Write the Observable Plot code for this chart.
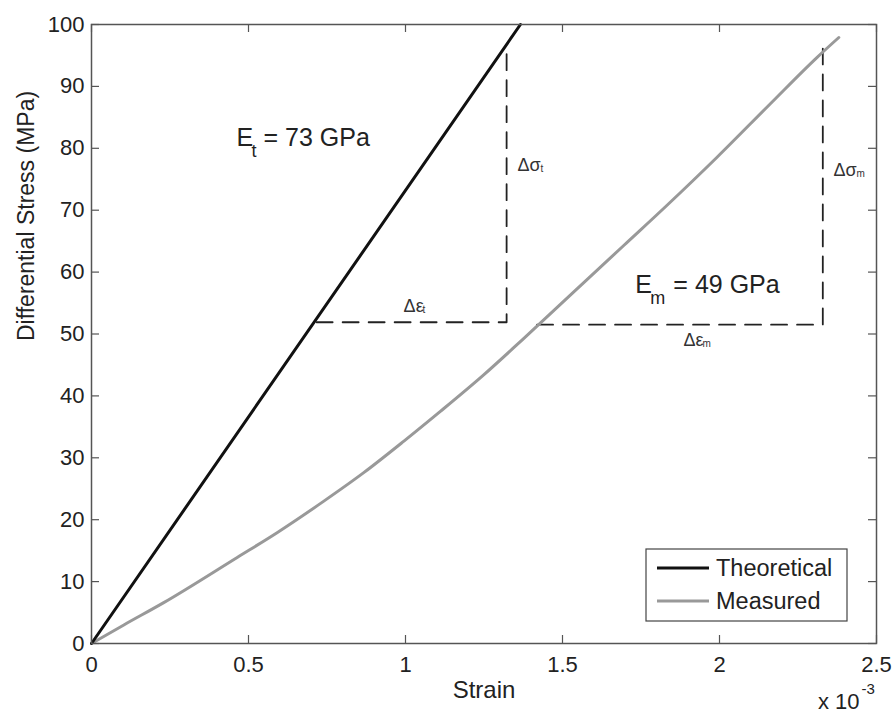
<!DOCTYPE html>
<html><head><meta charset="utf-8">
<script src="https://cdn.jsdelivr.net/npm/d3@7"></script>
<script src="https://cdn.jsdelivr.net/npm/@observablehq/plot@0.6"></script>
<style>
body{margin:0;background:#fff;}
svg{font-family:"Liberation Sans",Arial,Helvetica,sans-serif;}
</style>
</head><body><div id="chart"></div>
<script>
// Strain values are in units of 10^-3
const theoStrain = [0, 1.366];
const theoStress = [0, 100];
const measStrain = [0, 0.103, 0.230, 0.464, 0.591, 0.740, 0.867, 0.995, 1.111, 1.249, 1.377, 1.536, 1.695, 1.833, 1.993, 2.162, 2.311, 2.380];
const measStress = [0, 3.0, 6.6, 13.9, 17.9, 23.0, 27.6, 32.7, 37.5, 43.4, 49.3, 56.8, 64.3, 70.8, 78.6, 87.2, 94.7, 97.9];
const dashTStrain = [0.717, 1.322, 1.322];
const dashTStress = [51.9, 51.9, 96.8];
const dashMStrain = [1.419, 2.329, 2.329];
const dashMStress = [51.5, 51.5, 96.1];
const xTicks = [0, 0.5, 1, 1.5, 2, 2.5];
const yTicks = [0, 10, 20, 30, 40, 50, 60, 70, 80, 90, 100];
const seriesNames = ["Theoretical", "Measured"];
const modulusLabels = [{main: "E", sub: "t", rest: "= 73 GPa", x: 0.462, y: 80.45}, {main: "E", sub: "m", rest: "= 49 GPa", x: 1.732, y: 56.7}];
const sigmaLabels = [
  {main: "Δσ", sub: "t", x: 1.357, y: 76.4},
  {main: "Δσ", sub: "m", x: 2.363, y: 75.6}
];
const epsLabels = [
  {main: "Δε", sub: "t", x: 0.994, y: 53.5},
  {main: "Δε", sub: "m", x: 1.885, y: 48.1}
];

const theo = theoStrain.map((x, i) => ({x, y: theoStress[i]}));
const meas = measStrain.map((x, i) => ({x, y: measStress[i]}));
const dashT = dashTStrain.map((x, i) => ({x, y: dashTStress[i]}));
const dashM = dashMStrain.map((x, i) => ({x, y: dashMStress[i]}));

const W = 895, H = 713, mL = 91, mR = 19, mT = 24, mB = 70;
const iw = W - mL - mR, ih = H - mT - mB;
const axisColor = "#555";

const plot = Plot.plot({
  width: W, height: H,
  marginLeft: mL, marginRight: mR, marginTop: mT, marginBottom: mB,
  style: {fontFamily: '"Liberation Sans",Arial,sans-serif', background: "#fff"},
  x: {domain: [0, 2.5], label: null},
  y: {domain: [0, 100], label: null},
  marks: [
    Plot.axisX(xTicks, {tickSize: 0, tickPadding: 13, fontSize: 22, fill: "#222", label: null, tickFormat: d => String(d)}),
    Plot.axisY(yTicks, {tickSize: 0, tickPadding: 7, fontSize: 22, fill: "#222", label: null, tickFormat: d => String(d)}),
    Plot.tickX(xTicks, {x: d => d, insetTop: ih - 8, stroke: axisColor, strokeWidth: 1.2}),
    Plot.tickX(xTicks, {x: d => d, insetBottom: ih - 8, stroke: axisColor, strokeWidth: 1.2}),
    Plot.tickY(yTicks, {y: d => d, insetRight: iw - 8, stroke: axisColor, strokeWidth: 1.2}),
    Plot.tickY(yTicks, {y: d => d, insetLeft: iw - 8, stroke: axisColor, strokeWidth: 1.2}),
    Plot.line(dashT, {x: "x", y: "y", stroke: "#222", strokeWidth: 1.8, strokeDasharray: "16,10"}),
    Plot.line(dashM, {x: "x", y: "y", stroke: "#222", strokeWidth: 1.8, strokeDasharray: "16,10"}),
    Plot.line(meas, {x: "x", y: "y", stroke: "#999", strokeWidth: 3, curve: "monotone-x"}),
    Plot.line(theo, {x: "x", y: "y", stroke: "#111", strokeWidth: 3}),
    Plot.frame({stroke: axisColor, strokeWidth: 1.5}),
    // modulus annotations
    Plot.text(modulusLabels, {x: "x", y: "y", text: "main", textAnchor: "start", lineAnchor: "bottom", fontSize: 25, fill: "#222"}),
    Plot.text(modulusLabels, {x: "x", y: "y", text: "sub", textAnchor: "start", lineAnchor: "bottom", fontSize: 18, fill: "#222", dx: 15, dy: 11}),
    Plot.text(modulusLabels, {x: "x", y: "y", text: d => d.sub === "t" ? d.rest : "", textAnchor: "start", lineAnchor: "bottom", fontSize: 25, fill: "#222", dx: 27}),
    Plot.text(modulusLabels, {x: "x", y: "y", text: d => d.sub === "m" ? d.rest : "", textAnchor: "start", lineAnchor: "bottom", fontSize: 25, fill: "#222", dx: 38}),
    // delta annotations
    Plot.text(sigmaLabels, {x: "x", y: "y", text: "main", textAnchor: "start", lineAnchor: "bottom", fontSize: 18, fill: "#333"}),
    Plot.text(sigmaLabels, {x: "x", y: "y", text: "sub", textAnchor: "start", lineAnchor: "bottom", fontSize: 10, fill: "#333", dx: 23, dy: 1}),
    Plot.text(epsLabels, {x: "x", y: "y", text: "main", textAnchor: "start", lineAnchor: "bottom", fontSize: 18, fill: "#333"}),
    Plot.text(epsLabels, {x: "x", y: "y", text: "sub", textAnchor: "start", lineAnchor: "bottom", fontSize: 10, fill: "#333", dx: 19, dy: 1}),
    // axis titles
    Plot.text(["Strain"], {frameAnchor: "bottom", text: d => d, dy: 47, lineAnchor: "middle", fontSize: 24, fill: "#222"}),
    Plot.text(["Differential Stress (MPa)"], {frameAnchor: "left", text: d => d, rotate: -90, dx: -65, dy: 7, lineAnchor: "middle", fontSize: 23, fill: "#222"}),
    Plot.text(["x 10"], {frameAnchor: "bottom-right", text: d => d, textAnchor: "end", dx: -17, dy: 58, lineAnchor: "middle", fontSize: 22, fill: "#222"}),
    Plot.text(["-3"], {frameAnchor: "bottom-right", text: d => d, textAnchor: "start", dx: -15, dy: 46, lineAnchor: "middle", fontSize: 15, fill: "#222"})
  ]
});

// Legend (inside the plot area, lower right)
const svg = d3.select(plot);
const lg = svg.append("g").attr("text-anchor", "start");
lg.append("rect").attr("x", 646).attr("y", 549).attr("width", 201).attr("height", 72)
  .attr("fill", "#fff").attr("stroke", "#444").attr("stroke-width", 1.2);
const legColors = ["#111", "#999"];
seriesNames.forEach((name, i) => {
  const yy = 568 + i * 33;
  lg.append("line").attr("x1", 657).attr("x2", 709).attr("y1", yy).attr("y2", yy)
    .attr("stroke", legColors[i]).attr("stroke-width", 3);
  lg.append("text").attr("x", 716).attr("y", yy).attr("dy", "0.35em")
    .attr("text-anchor", "start")
    .attr("font-size", 23.5).attr("fill", "#222").text(name);
});

document.getElementById("chart").appendChild(plot);
</script>
</body></html>
